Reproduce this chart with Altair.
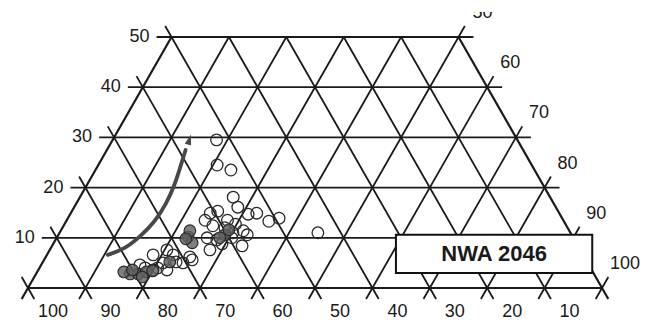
import altair as alt
import pandas as pd

# ---- tick values -------------------------------------------------------
left_ticks = [10, 20, 30, 40, 50]                      # horizontal lines (apex component)
bottom_ticks = [100, 90, 80, 70, 60, 50, 40, 30, 20, 10]
right_ticks = [50, 60, 70, 80, 90, 100]

# ---- data: (bottom component A, apex component C) ----------------------
open_A = [52.4, 54.8, 52.9, 55.2, 55.4, 54.3, 52.7, 51.4, 49.3, 44.0,
          56.8, 58.5, 62.3, 64.5, 63.8, 62.4, 60.8, 59.3, 61.6, 59.7,
          59.5, 61.8, 57.5, 56.5, 58.8, 58.5, 68.6, 71.4, 74.0, 74.9,
          74.0, 76.4, 71.6, 72.0, 70.5, 68.7, 77.6, 75.4, 78.2]
open_C = [29.5, 24.5, 23.5, 18.1, 16.1, 14.7, 14.9, 13.3, 13.9, 11.0,
          11.4, 8.4, 9.6, 7.6, 10.0, 13.5, 14.9, 15.3, 12.4, 12.0,
          10.0, 8.8, 12.7, 10.6, 11.0, 13.5, 5.6, 6.6, 5.0, 6.6,
          3.6, 3.6, 5.2, 7.6, 5.0, 6.2, 4.0, 4.0, 4.6]

dense_A = [80.8, 79.4, 77.8, 81.7, 79.0, 80.0, 76.6, 67.0, 66.9, 66.1, 67.6,
           60.4, 61.6, 59.2, 72.7]
dense_C = [2.8, 2.8, 3.2, 3.2, 2.2, 3.6, 3.4, 10.2, 9.0, 11.4, 9.8,
           10.6, 10.0, 11.6, 5.2]

arrow_A = [82.8, 79.2, 75.4, 71.4, 67.4, 64.2, 61.1, 58.8]
arrow_C = [6.6, 7.8, 10.2, 13.1, 16.9, 20.5, 24.5, 27.5]
head_A = [57.3]
head_C = [29.3]

label_text = "NWA 2046"
label_box_X = [64.1, 98.3]
label_box_C = [3.0, 10.6]

# ---- helpers -----------------------------------------------------------
def to_x(a, c):
    return 100 - a - c / 2

XS = alt.Scale(domain=[-3.484, 106.62], nice=False, zero=False)
YS = alt.Scale(domain=[-6.175, 54.98], nice=False, zero=False)

def X(field="x"):
    return alt.X(f"{field}:Q", scale=XS, axis=None)

def Y(field="y"):
    return alt.Y(f"{field}:Q", scale=YS, axis=None)

INK = "#1a1a1a"
FONT = "Liberation Sans"

# ---- grid segments -----------------------------------------------------
segs = []
for c in left_ticks:
    segs.append(dict(x=c / 2 - 2.6, y=c, x2=100 - c / 2 + 2.6, y2=c, w=1.8))
segs.append(dict(x=0, y=0, x2=100, y2=0, w=2.2))
e = 2.2
for b in range(0, 101, 10):            # "/" lines (constant B)
    x0, y0 = b - e / 2, -e
    if b < 50:
        x1, y1 = b + 25, 50
    else:
        ct = 100 - b
        x1, y1 = b + ct / 2 + e / 2, ct + e
    segs.append(dict(x=x0, y=y0, x2=x1, y2=y1, w=2.2 if b == 0 else 1.8))
for a in range(0, 101, 10):            # "\" lines (constant A)
    x0, y0 = 100 - a + e / 2, -e
    if a >= 50:
        ct = 100 - a
        x1, y1 = ct / 2 - e / 2, ct + e
    else:
        x1, y1 = 75 - a, 50
    segs.append(dict(x=x0, y=y0, x2=x1, y2=y1, w=2.2 if a == 0 else 1.8))
grid_df = pd.DataFrame(segs)

grid = alt.Chart(grid_df).mark_rule(color=INK).encode(
    x=X("x"), y=Y("y"), x2="x2:Q", y2="y2:Q",
    strokeWidth=alt.StrokeWidth("w:Q", scale=None, legend=None),
)

# ---- labels ------------------------------------------------------------
left_df = pd.DataFrame({"x": [c / 2 for c in left_ticks], "y": left_ticks,
                        "t": [str(c) for c in left_ticks]})
bottom_df = pd.DataFrame({"x": [100 - a for a in bottom_ticks], "y": [0] * len(bottom_ticks),
                          "t": [str(a) for a in bottom_ticks]})
right_df = pd.DataFrame({"x": [b + (100 - b) / 2 for b in right_ticks],
                         "y": [100 - b for b in right_ticks],
                         "t": [str(b) for b in right_ticks]})

txt = dict(font=FONT, fontSize=18, color=INK, baseline="middle")
left_lab = alt.Chart(left_df).mark_text(align="right", dx=-22, **txt).encode(
    x=X("x"), y=Y("y"), text="t:N")
bottom_lab = alt.Chart(bottom_df).mark_text(align="center", dx=25, dy=24, **txt).encode(
    x=X("x"), y=Y("y"), text="t:N")
right_top = right_df[right_df["t"] == "50"]
right_rest = right_df[right_df["t"] != "50"]
right_lab_top = alt.Chart(right_top).mark_text(align="center", dx=24, dy=-24, clip=True, **txt).encode(
    x=X("x"), y=Y("y"), text="t:N")
right_lab = alt.Chart(right_rest).mark_text(align="center", dx=23, dy=-24, **txt).encode(
    x=X("x"), y=Y("y"), text="t:N")

# ---- points ------------------------------------------------------------
open_df = pd.DataFrame({"x": [to_x(a, c) for a, c in zip(open_A, open_C)], "y": open_C})
dense_df = pd.DataFrame({"x": [to_x(a, c) for a, c in zip(dense_A, dense_C)], "y": dense_C})

open_pts = alt.Chart(open_df).mark_point(
    shape="circle", size=135, filled=False, stroke="#2a2a2a", strokeWidth=1.3, opacity=1
).encode(x=X("x"), y=Y("y"))
dense_pts = alt.Chart(dense_df).mark_point(
    shape="circle", size=135, filled=True, fill="#606060", fillOpacity=0.8,
    stroke="#2a2a2a", strokeWidth=1.2, opacity=1
).encode(x=X("x"), y=Y("y"))

# ---- arrow -------------------------------------------------------------
arrow_df = pd.DataFrame({"x": [to_x(a, c) for a, c in zip(arrow_A, arrow_C)], "y": arrow_C,
                         "o": list(range(len(arrow_A)))})
arrow = alt.Chart(arrow_df).mark_line(
    interpolate="basis", strokeWidth=3.8, color="#484848", strokeCap="round"
).encode(x=X("x"), y=Y("y"), order="o:Q")
head_df = pd.DataFrame({"x": [to_x(a, c) for a, c in zip(head_A, head_C)], "y": head_C})
head = alt.Chart(head_df).mark_point(
    shape="M0,-1.2L0.6,0.7L-0.6,0.7Z", size=120, filled=True, color="#484848",
    opacity=1, angle=16
).encode(x=X("x"), y=Y("y"))

# ---- label box ---------------------------------------------------------
box_df = pd.DataFrame({"x": [label_box_X[0]], "x2": [label_box_X[1]],
                       "y": [label_box_C[0]], "y2": [label_box_C[1]],
                       "tx": [sum(label_box_X) / 2], "ty": [sum(label_box_C) / 2],
                       "t": [label_text]})
box = alt.Chart(box_df).mark_rect(fill="white", stroke="#111111", strokeWidth=2).encode(
    x=X("x"), x2="x2:Q", y=Y("y"), y2="y2:Q")
box_text = alt.Chart(box_df).mark_text(
    font=FONT, fontSize=22, fontWeight="bold", color="#1a1a1a", baseline="middle", align="center"
).encode(x=X("tx"), y=Y("ty"), text="t:N")

chart = alt.layer(
    grid, open_pts, dense_pts, arrow, head, box, box_text,
    left_lab, bottom_lab, right_lab, right_lab_top
).properties(
    width=632, height=307,
    autosize=alt.AutoSizeParams(type="none"),
    padding={"top": 4, "left": 0, "right": 0, "bottom": 0},
    background="white",
).configure_view(strokeWidth=0)

chart.save("out.html", embed_options={"renderer": "svg", "actions": False})
